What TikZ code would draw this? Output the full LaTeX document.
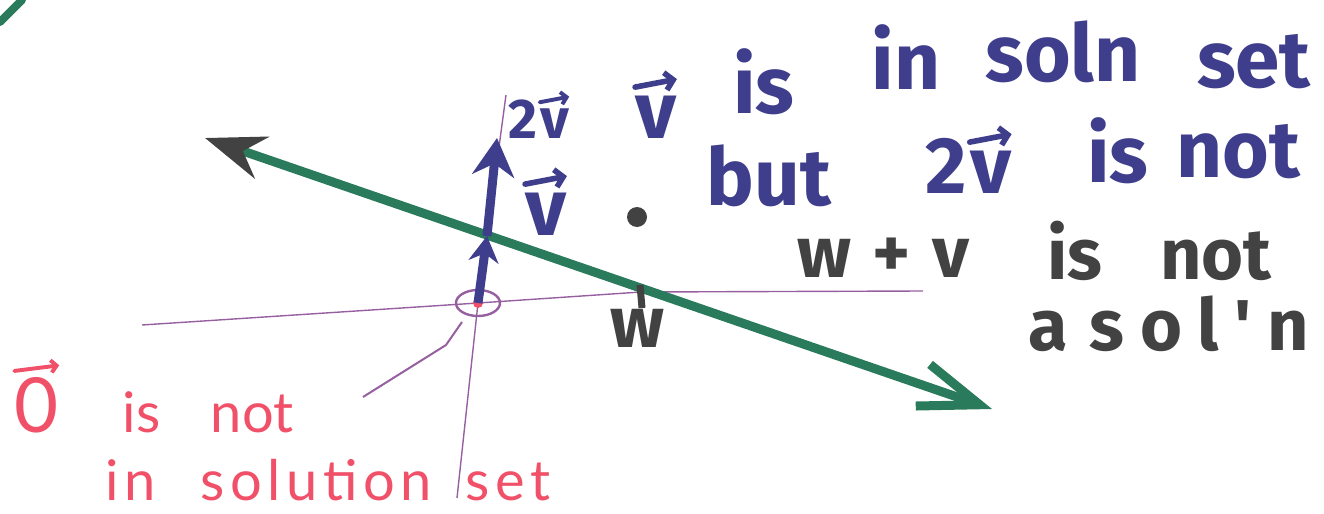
\documentclass[tikz,border=0pt]{standalone}
\usepackage{fontspec}
\newfontfamily\markerfont{Fira Sans}
\newfontfamily\penfont{Lato}
\usetikzlibrary{arrows.meta}
\definecolor{lineGreen}{RGB}{42,122,92}
\definecolor{inkBlue}{RGB}{62,62,140}
\definecolor{inkPurple}{RGB}{150,95,160}
\definecolor{inkRed}{RGB}{240,80,104}
\definecolor{inkGray}{RGB}{66,66,66}
% hand-drawn vector arrow over a letter
\newcommand\vecsym[1]{\tikz[baseline=(ch.base)]{\node[inner sep=0pt] (ch) {#1};
  \draw[line width=0.07em, line cap=round, -{Straight Barb[length=0.1em, width=0.22em]}]
    ([yshift=0.1em]ch.north west) -- ([yshift=0.2em]ch.north east);}}
\begin{document}
\begin{tikzpicture}[x=0.5pt, y=-0.5pt,
    marker/.style={font=\markerfont\bfseries\fontsize{36}{42}\selectfont, inner sep=0pt},
    bluehand/.style={marker, text=inkBlue, font=\markerfont\bfseries\fontsize{40}{46}\selectfont},
    grayhand/.style={marker, text=inkGray},
    redhand/.style={font=\penfont\fontsize{28}{34}\selectfont, text=inkRed, inner sep=0pt},
    solnline/.style={draw=lineGreen, line width=4.5pt, line cap=round},
    axisline/.style={draw=inkPurple, line width=0.7pt},
    vecarrow/.style={draw=inkBlue, line width=4.5pt, -{Stealth[length=19pt, width=21pt]}},
    pt/.style={circle, fill=inkGray, inner sep=0pt, minimum size=10pt}]
\useasboundingbox (0,0) rectangle (1324,514);

% points
\coordinate (axtop) at (506,95);
\coordinate (axbot) at (457,498);
\coordinate (O) at (478,303);
\coordinate (V) at (487,236);
\coordinate (TwoV) at (497,138);
\coordinate (W) at (641,292);
\coordinate (axleft) at (142,325);
\coordinate (axright) at (923,291);
\coordinate (lineA) at (205,138);
\coordinate (lineB) at (992,409);

% axes
\draw[axisline] (axtop) -- (O) -- (axbot);
\draw[axisline] (axleft) -- (O) -- (W) -- (axright);
\draw[axisline] (V) -- (W);
\draw[axisline, line width=1.2pt] (O) ellipse [x radius=22, y radius=13];
\coordinate (ptr) at (363,397);
\draw[axisline, line width=1pt] (ptr) -- (446,345) -- (462,322);

% solution set
\draw[solnline, {Stealth[length=30pt, width=22pt, inset=10pt, color=inkGray]}-{Straight Barb[length=30pt, width=22pt]}] (lineA) -- (lineB);
\draw[solnline, line width=4pt] (0,22) -- (22,0);

% vectors
\fill[inkRed] (O) circle [radius=5];
\draw[vecarrow, -{Stealth[length=13pt, width=15pt]}] (O) -- (V);
\draw[vecarrow] (V) -- (TwoV);
\node[pt] (wv) at (637,217) {};
\draw[draw=inkGray, line width=3.5pt] (640,285) -- (642,308);

% labels
\node[bluehand, anchor=base, font=\markerfont\bfseries\fontsize{28}{32}\selectfont] (lbltwov) at (540,138) {2\vecsym{v}};
\node[bluehand, anchor=base] (lblv) at (546,235) {\vecsym{v}};
\node[grayhand] (lblw) at (637,328) {w};
% handwritten lines climb to the right, one node per word
\foreach \word/\x/\y [count=\i] in {{\vecsym{v}}/656/138, is/764/113, in/906/90, soln/1063/82, set/1254/87}
  \node[bluehand, anchor=base] (inset\i) at (\x,\y) {\word};
\foreach \word/\x/\y [count=\i] in {but/769/205, {2\vecsym{v}}/970/193, is/1118/182, not/1238/177}
  \node[bluehand, anchor=base] (notset\i) at (\x,\y) {\word};
\node[grayhand, anchor=base west] (wvsum) at (797,277) {w\hspace{0.3em}+\hspace{0.3em}v};
\node[grayhand, anchor=base west] (wvnot) at (1047,279) {is\hspace{0.8em}not};
\node[grayhand, anchor=base west, font=\markerfont\bfseries\fontsize{36}{42}\selectfont\addfontfeature{LetterSpace=22}] (wvsoln) at (1028,350) {a\hspace{0.3em}sol'n};
\node[redhand, anchor=base west] (zeronot) at (12,432) {\vecsym{\fontsize{38}{40}\selectfont 0}\hspace{1.1em}is\hspace{0.9em}not};
\node[redhand, anchor=base west, font=\penfont\fontsize{28}{34}\selectfont\addfontfeature{LetterSpace=10}] (zeroset) at (105,500) {in\hspace{0.8em}solution\hspace{0.6em}set};
\end{tikzpicture}
\end{document}
